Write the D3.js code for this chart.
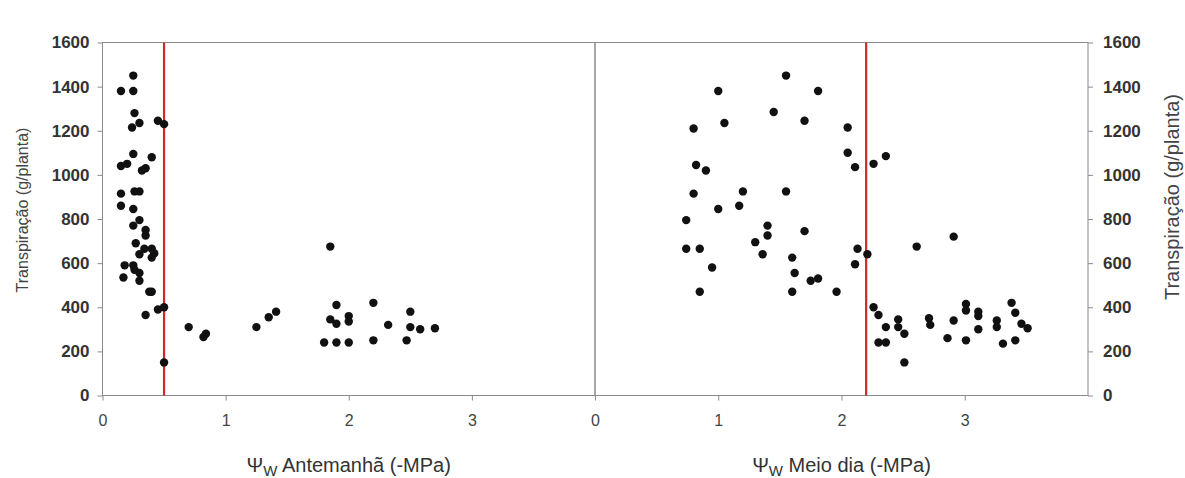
<!DOCTYPE html>
<html>
<head>
<meta charset="utf-8">
<script src="https://cdn.jsdelivr.net/npm/d3@7"></script>
<style>
  body { margin: 0; background: #fff; }
  text { font-family: "Liberation Sans", Arial, sans-serif; }
</style>
</head>
<body>
<div id="chart"></div>
<script>
var w = 1185;
var h = 478;

// Psi_w antemanha (-MPa) vs transpiracao (g/planta)
var antemanhaX = [0.25, 0.15, 0.25, 0.26, 0.30, 0.24, 0.45, 0.50, 0.25, 0.40,
  0.15, 0.20, 0.32, 0.35, 0.15, 0.26, 0.30, 0.15, 0.25, 0.30,
  0.25, 0.35, 0.35, 0.27, 0.34, 0.30, 0.40, 0.42, 0.40, 0.18,
  0.25, 0.26, 0.30, 0.17, 0.30, 0.38, 0.40, 0.35, 0.45, 0.50,
  0.50, 0.70, 0.82, 0.84, 1.25, 1.35, 1.41, 1.85, 1.90, 1.85,
  1.90, 2.00, 2.00, 1.80, 1.90, 2.00, 2.20, 2.20, 2.32, 2.50,
  2.50, 2.47, 2.58, 2.70];
var antemanhaY = [1450, 1380, 1380, 1280, 1235, 1215, 1245, 1230, 1095, 1080,
  1040, 1050, 1020, 1030, 915, 925, 925, 860, 845, 795,
  770, 750, 725, 690, 665, 640, 665, 645, 625, 590,
  590, 570, 555, 535, 520, 470, 470, 365, 390, 400,
  150, 310, 265, 280, 310, 355, 380, 675, 410, 345,
  325, 360, 335, 240, 240, 240, 420, 250, 320, 380,
  310, 250, 300, 305];

// Psi_w meio dia (-MPa) vs transpiracao (g/planta)
var meioDiaX = [1.55, 1.00, 1.81, 1.45, 1.70, 1.05, 0.80, 2.05, 2.05, 2.11,
  2.26, 2.36, 0.82, 0.90, 0.80, 1.20, 1.55, 1.00, 1.17, 0.74,
  1.40, 1.40, 1.70, 1.30, 1.36, 0.74, 0.85, 0.95, 0.85, 1.60,
  1.62, 1.60, 1.75, 1.81, 1.96, 2.13, 2.11, 2.21, 2.26, 2.30,
  2.36, 2.30, 2.36, 2.46, 2.46, 2.51, 2.51, 2.61, 2.71, 2.72,
  2.86, 2.91, 2.91, 3.01, 3.01, 3.01, 3.11, 3.11, 3.11, 3.26,
  3.26, 3.31, 3.38, 3.41, 3.41, 3.46, 3.51];
var meioDiaY = [1450, 1380, 1380, 1285, 1245, 1235, 1210, 1215, 1100, 1035,
  1050, 1085, 1045, 1020, 915, 925, 925, 845, 860, 795,
  770, 725, 745, 695, 640, 665, 665, 580, 470, 625,
  555, 470, 520, 530, 470, 665, 595, 640, 400, 365,
  310, 240, 240, 345, 310, 280, 150, 675, 350, 320,
  260, 720, 340, 415, 385, 250, 380, 360, 300, 340,
  310, 235, 420, 375, 250, 325, 305];

// limites (linhas vermelhas)
var limiteAntemanha = 0.5;
var limiteMeioDia = 2.2;

var xTicks = [0, 1, 2, 3];
var yTicks = [0, 200, 400, 600, 800, 1000, 1200, 1400, 1600];

var frameColor = "#8a8a8a";
var textColor = "#333";

var svg = d3.select("#chart").append("svg")
  .attr("width", w)
  .attr("height", h)
  .style("background", "#fff");

var y = d3.scaleLinear().domain([0, 1600]).range([395.5, 42.5]);
var xL = d3.scaleLinear().domain([0, 4]).range([102.5, 595]);
var xR = d3.scaleLinear().domain([0, 4]).range([595, 1088]);

function panel(x, xs, ys, limite) {
  // frame
  svg.append("rect")
    .attr("x", x(0)).attr("y", y(1600))
    .attr("width", x(4) - x(0)).attr("height", y(0) - y(1600))
    .attr("fill", "none")
    .attr("stroke", frameColor)
    .attr("stroke-width", 1);

  var ax = svg.append("g")
    .attr("transform", "translate(0," + y(0) + ")")
    .call(d3.axisBottom(x).tickValues(xTicks).tickSize(5).tickPadding(14).tickFormat(d3.format("d")));
  ax.select(".domain").remove();
  ax.selectAll(".tick line").attr("stroke", frameColor);
  ax.selectAll(".tick text").attr("fill", "#444").style("font-size", "16px");

  // linha vermelha
  svg.append("line")
    .attr("x1", x(limite)).attr("x2", x(limite))
    .attr("y1", y(1600)).attr("y2", y(0))
    .attr("stroke", "#cc2a2a")
    .attr("stroke-width", 2.2);

  var pts = xs.map(function(d, i) { return { x: d, y: ys[i] }; });
  svg.append("g").selectAll("circle")
      .data(pts)
    .enter().append("circle")
      .attr("cx", function(d) { return x(d.x); })
      .attr("cy", function(d) { return y(d.y); })
      .attr("r", 4.2)
      .attr("fill", "#111");
}

panel(xL, antemanhaX, antemanhaY, limiteAntemanha);
panel(xR, meioDiaX, meioDiaY, limiteMeioDia);

// y axes
var yl = svg.append("g")
  .attr("transform", "translate(" + xL(0) + ",0)")
  .call(d3.axisLeft(y).tickValues(yTicks).tickSize(5).tickPadding(8).tickFormat(d3.format("d")));
yl.select(".domain").remove();
yl.selectAll(".tick line").attr("stroke", frameColor);
yl.selectAll(".tick text").attr("fill", textColor)
  .style("font-size", "17px").style("font-weight", "bold");

var yr = svg.append("g")
  .attr("transform", "translate(" + xR(4) + ",0)")
  .call(d3.axisRight(y).tickValues(yTicks).tickSize(5).tickPadding(10).tickFormat(d3.format("d")));
yr.select(".domain").remove();
yr.selectAll(".tick line").attr("stroke", frameColor);
yr.selectAll(".tick text").attr("fill", textColor)
  .style("font-size", "17px").style("font-weight", "bold");

// titles
svg.append("text")
  .attr("transform", "translate(28,210) rotate(-90)")
  .attr("text-anchor", "middle")
  .style("font-size", "16px")
  .attr("fill", "#444")
  .text("Transpiração (g/planta)");

svg.append("text")
  .attr("transform", "translate(1179,197) rotate(-90)")
  .attr("text-anchor", "middle")
  .style("font-size", "20px")
  .attr("fill", "#444")
  .text("Transpiração (g/planta)");

function xTitle(cx, label) {
  var t = svg.append("text")
    .attr("x", cx).attr("y", 472)
    .attr("text-anchor", "middle")
    .style("font-size", "20px")
    .attr("fill", "#333");
  t.append("tspan").text("\u03A8");
  t.append("tspan").attr("dy", 4).style("font-size", "15px").text("W");
  t.append("tspan").attr("dy", -4).text(" " + label);
}
xTitle((xL(0) + xL(4)) / 2, "Antemanhã (-MPa)");
xTitle((xR(0) + xR(4)) / 2, "Meio dia (-MPa)");
</script>
</body>
</html>
